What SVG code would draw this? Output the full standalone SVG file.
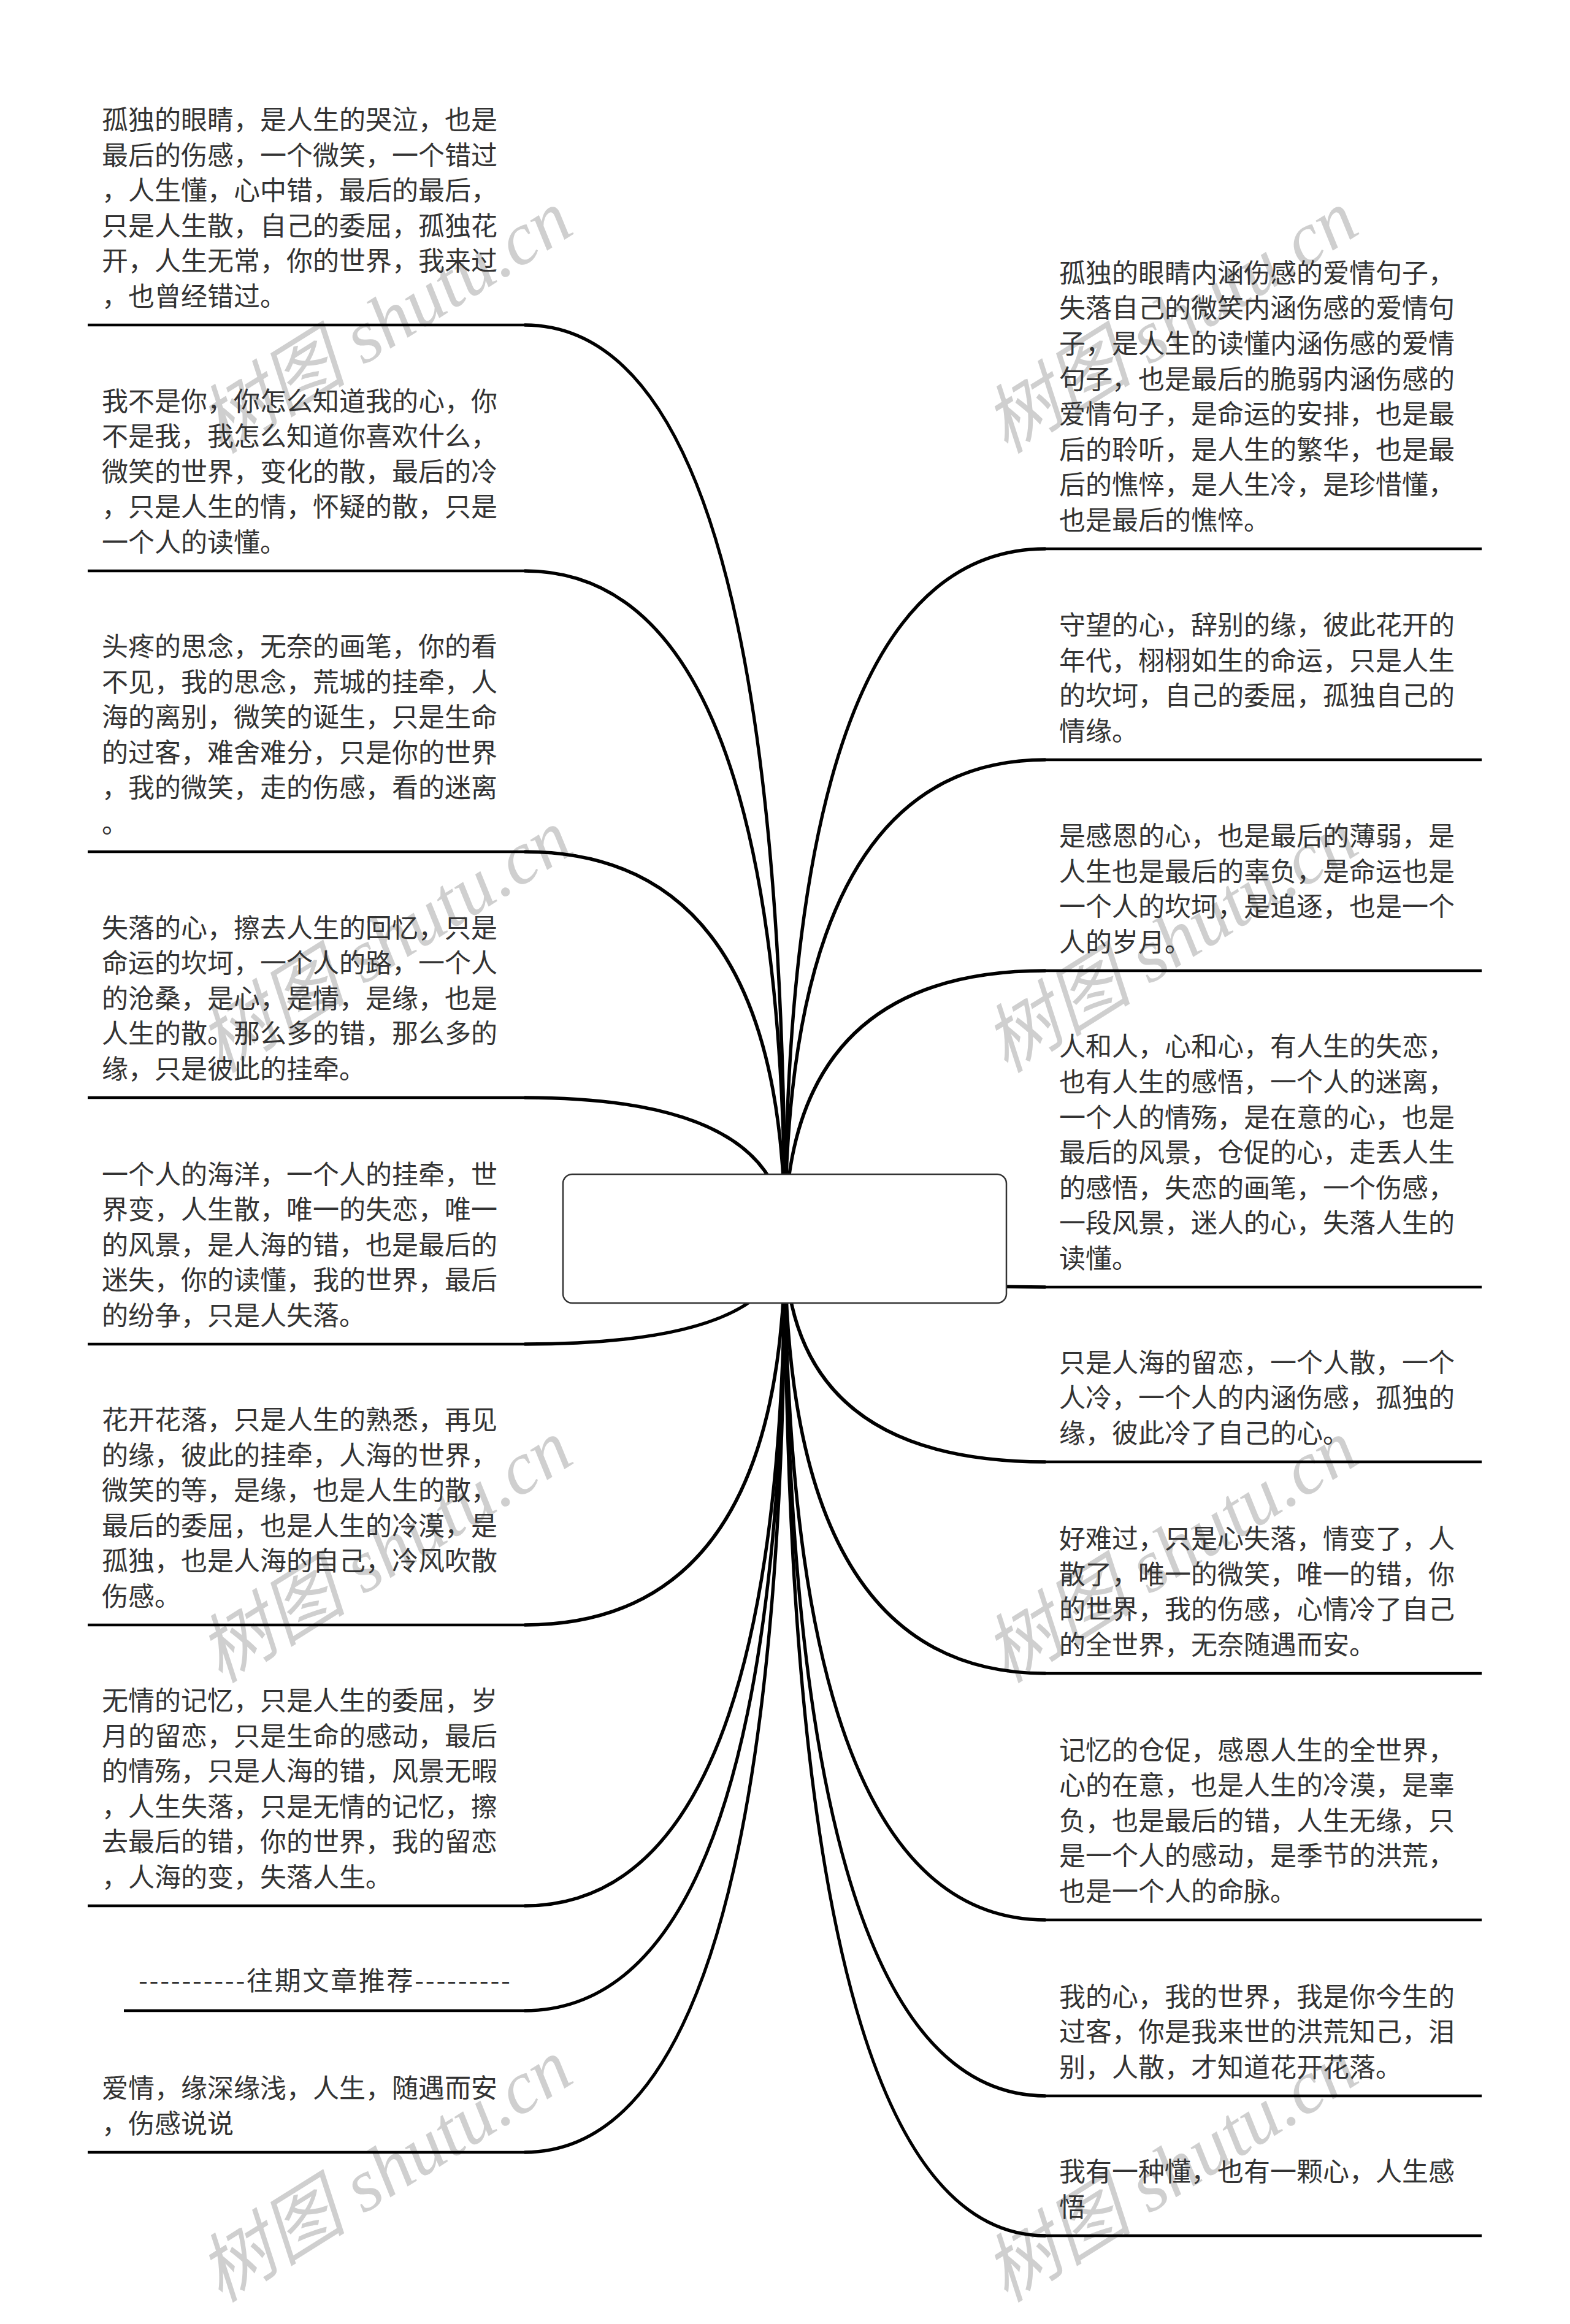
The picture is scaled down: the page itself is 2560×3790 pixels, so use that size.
<svg xmlns="http://www.w3.org/2000/svg" width="2560" height="3790" viewBox="0 0 2560 3790">
<style>
.t{font-family:"Noto Sans CJK SC","Noto Sans",sans-serif;font-size:43px;fill:#333}
.ul{stroke:#000;stroke-width:4.5;fill:none}
.cv{stroke:#000;stroke-width:5.5;fill:none}
.wm{font-family:"Liberation Serif","Noto Sans CJK SC",serif;font-style:italic;font-size:122px;fill:#cfcfcf;text-anchor:middle}
</style>
<rect width="2560" height="3790" fill="#fff"/>
<g id="watermarks">
<text class="wm" transform="translate(650,560) rotate(-32)">树图 shutu.cn</text>
<text class="wm" transform="translate(650,1570) rotate(-32)">树图 shutu.cn</text>
<text class="wm" transform="translate(650,2565) rotate(-32)">树图 shutu.cn</text>
<text class="wm" transform="translate(650,3575) rotate(-32)">树图 shutu.cn</text>
<text class="wm" transform="translate(1931,560) rotate(-32)">树图 shutu.cn</text>
<text class="wm" transform="translate(1931,1570) rotate(-32)">树图 shutu.cn</text>
<text class="wm" transform="translate(1931,2565) rotate(-32)">树图 shutu.cn</text>
<text class="wm" transform="translate(1931,3575) rotate(-32)">树图 shutu.cn</text>
</g>
<g id="connectors">
<path class="cv" d="M1280,2020 Q1280,530 855,530"/>
<path class="cv" d="M1280,2020 Q1280,931 855,931"/>
<path class="cv" d="M1280,2020 Q1280,1389 855,1389"/>
<path class="cv" d="M1280,2020 Q1280,1790 855,1790"/>
<path class="cv" d="M1280,2020 Q1280,2192 855,2192"/>
<path class="cv" d="M1280,2020 Q1280,2650 855,2650"/>
<path class="cv" d="M1280,2020 Q1280,3108 855,3108"/>
<path class="cv" d="M1280,2020 Q1280,3279 855,3279"/>
<path class="cv" d="M1280,2020 Q1280,3510 855,3510"/>
<path class="cv" d="M1280,2020 Q1280,895 1705,895"/>
<path class="cv" d="M1280,2020 Q1280,1239 1705,1239"/>
<path class="cv" d="M1280,2020 Q1280,1583 1705,1583"/>
<path class="cv" d="M1280,2020 Q1280,2099 1705,2099"/>
<path class="cv" d="M1280,2020 Q1280,2384 1705,2384"/>
<path class="cv" d="M1280,2020 Q1280,2729 1705,2729"/>
<path class="cv" d="M1280,2020 Q1280,3131 1705,3131"/>
<path class="cv" d="M1280,2020 Q1280,3418 1705,3418"/>
<path class="cv" d="M1280,2020 Q1280,3646 1705,3646"/>
</g>
<g id="root">
<rect x="918" y="1915" width="723" height="210" rx="15" ry="15" fill="#fff" stroke="#333" stroke-width="2.5"/>
</g>
<g id="L1">
<line class="ul" x1="143" y1="530" x2="855" y2="530"/>
<text class="t" x="166" y="211"><tspan x="166">孤独的眼睛，是人生的哭泣，也是</tspan><tspan x="166" dy="57.6">最后的伤感，一个微笑，一个错过</tspan><tspan x="166" dy="57.6">，人生懂，心中错，最后的最后，</tspan><tspan x="166" dy="57.6">只是人生散，自己的委屈，孤独花</tspan><tspan x="166" dy="57.6">开，人生无常，你的世界，我来过</tspan><tspan x="166" dy="57.6">，也曾经错过。</tspan></text>
</g>
<g id="L2">
<line class="ul" x1="143" y1="931" x2="855" y2="931"/>
<text class="t" x="166" y="669.6"><tspan x="166">我不是你，你怎么知道我的心，你</tspan><tspan x="166" dy="57.6">不是我，我怎么知道你喜欢什么，</tspan><tspan x="166" dy="57.6">微笑的世界，变化的散，最后的冷</tspan><tspan x="166" dy="57.6">，只是人生的情，怀疑的散，只是</tspan><tspan x="166" dy="57.6">一个人的读懂。</tspan></text>
</g>
<g id="L3">
<line class="ul" x1="143" y1="1389" x2="855" y2="1389"/>
<text class="t" x="166" y="1070"><tspan x="166">头疼的思念，无奈的画笔，你的看</tspan><tspan x="166" dy="57.6">不见，我的思念，荒城的挂牵，人</tspan><tspan x="166" dy="57.6">海的离别，微笑的诞生，只是生命</tspan><tspan x="166" dy="57.6">的过客，难舍难分，只是你的世界</tspan><tspan x="166" dy="57.6">，我的微笑，走的伤感，看的迷离</tspan><tspan x="166" dy="57.6">。</tspan></text>
</g>
<g id="L4">
<line class="ul" x1="143" y1="1790" x2="855" y2="1790"/>
<text class="t" x="166" y="1528.6"><tspan x="166">失落的心，擦去人生的回忆，只是</tspan><tspan x="166" dy="57.6">命运的坎坷，一个人的路，一个人</tspan><tspan x="166" dy="57.6">的沧桑，是心，是情，是缘，也是</tspan><tspan x="166" dy="57.6">人生的散。那么多的错，那么多的</tspan><tspan x="166" dy="57.6">缘，只是彼此的挂牵。</tspan></text>
</g>
<g id="L5">
<line class="ul" x1="143" y1="2192" x2="855" y2="2192"/>
<text class="t" x="166" y="1930.6"><tspan x="166">一个人的海洋，一个人的挂牵，世</tspan><tspan x="166" dy="57.6">界变，人生散，唯一的失恋，唯一</tspan><tspan x="166" dy="57.6">的风景，是人海的错，也是最后的</tspan><tspan x="166" dy="57.6">迷失，你的读懂，我的世界，最后</tspan><tspan x="166" dy="57.6">的纷争，只是人失落。</tspan></text>
</g>
<g id="L6">
<line class="ul" x1="143" y1="2650" x2="855" y2="2650"/>
<text class="t" x="166" y="2331"><tspan x="166">花开花落，只是人生的熟悉，再见</tspan><tspan x="166" dy="57.6">的缘，彼此的挂牵，人海的世界，</tspan><tspan x="166" dy="57.6">微笑的等，是缘，也是人生的散，</tspan><tspan x="166" dy="57.6">最后的委屈，也是人生的冷漠，是</tspan><tspan x="166" dy="57.6">孤独，也是人海的自己，冷风吹散</tspan><tspan x="166" dy="57.6">伤感。</tspan></text>
</g>
<g id="L7">
<line class="ul" x1="143" y1="3108" x2="855" y2="3108"/>
<text class="t" x="166" y="2789"><tspan x="166">无情的记忆，只是人生的委屈，岁</tspan><tspan x="166" dy="57.6">月的留恋，只是生命的感动，最后</tspan><tspan x="166" dy="57.6">的情殇，只是人海的错，风景无暇</tspan><tspan x="166" dy="57.6">，人生失落，只是无情的记忆，擦</tspan><tspan x="166" dy="57.6">去最后的错，你的世界，我的留恋</tspan><tspan x="166" dy="57.6">，人海的变，失落人生。</tspan></text>
</g>
<g id="L8">
<line class="ul" x1="202" y1="3279" x2="855" y2="3279"/>
<text class="t" x="226" y="3246" textLength="606" lengthAdjust="spacing">----------往期文章推荐---------</text>
</g>
<g id="L9">
<line class="ul" x1="143" y1="3510" x2="855" y2="3510"/>
<text class="t" x="166" y="3421.4"><tspan x="166">爱情，缘深缘浅，人生，随遇而安</tspan><tspan x="166" dy="57.6">，伤感说说</tspan></text>
</g>
<g id="R1">
<line class="ul" x1="1705" y1="895" x2="2416" y2="895"/>
<text class="t" x="1727" y="460.8"><tspan x="1727">孤独的眼睛内涵伤感的爱情句子，</tspan><tspan x="1727" dy="57.6">失落自己的微笑内涵伤感的爱情句</tspan><tspan x="1727" dy="57.6">子，是人生的读懂内涵伤感的爱情</tspan><tspan x="1727" dy="57.6">句子，也是最后的脆弱内涵伤感的</tspan><tspan x="1727" dy="57.6">爱情句子，是命运的安排，也是最</tspan><tspan x="1727" dy="57.6">后的聆听，是人生的繁华，也是最</tspan><tspan x="1727" dy="57.6">后的憔悴，是人生冷，是珍惜懂，</tspan><tspan x="1727" dy="57.6">也是最后的憔悴。</tspan></text>
</g>
<g id="R2">
<line class="ul" x1="1705" y1="1239" x2="2416" y2="1239"/>
<text class="t" x="1727" y="1035.2"><tspan x="1727">守望的心，辞别的缘，彼此花开的</tspan><tspan x="1727" dy="57.6">年代，栩栩如生的命运，只是人生</tspan><tspan x="1727" dy="57.6">的坎坷，自己的委屈，孤独自己的</tspan><tspan x="1727" dy="57.6">情缘。</tspan></text>
</g>
<g id="R3">
<line class="ul" x1="1705" y1="1583" x2="2416" y2="1583"/>
<text class="t" x="1727" y="1379.2"><tspan x="1727">是感恩的心，也是最后的薄弱，是</tspan><tspan x="1727" dy="57.6">人生也是最后的辜负，是命运也是</tspan><tspan x="1727" dy="57.6">一个人的坎坷，是追逐，也是一个</tspan><tspan x="1727" dy="57.6">人的岁月。</tspan></text>
</g>
<g id="R4">
<line class="ul" x1="1705" y1="2099" x2="2416" y2="2099"/>
<text class="t" x="1727" y="1722.4"><tspan x="1727">人和人，心和心，有人生的失恋，</tspan><tspan x="1727" dy="57.6">也有人生的感悟，一个人的迷离，</tspan><tspan x="1727" dy="57.6">一个人的情殇，是在意的心，也是</tspan><tspan x="1727" dy="57.6">最后的风景，仓促的心，走丢人生</tspan><tspan x="1727" dy="57.6">的感悟，失恋的画笔，一个伤感，</tspan><tspan x="1727" dy="57.6">一段风景，迷人的心，失落人生的</tspan><tspan x="1727" dy="57.6">读懂。</tspan></text>
</g>
<g id="R5">
<line class="ul" x1="1705" y1="2384" x2="2416" y2="2384"/>
<text class="t" x="1727" y="2237.8"><tspan x="1727">只是人海的留恋，一个人散，一个</tspan><tspan x="1727" dy="57.6">人冷，一个人的内涵伤感，孤独的</tspan><tspan x="1727" dy="57.6">缘，彼此冷了自己的心。</tspan></text>
</g>
<g id="R6">
<line class="ul" x1="1705" y1="2729" x2="2416" y2="2729"/>
<text class="t" x="1727" y="2525.2"><tspan x="1727">好难过，只是心失落，情变了，人</tspan><tspan x="1727" dy="57.6">散了，唯一的微笑，唯一的错，你</tspan><tspan x="1727" dy="57.6">的世界，我的伤感，心情冷了自己</tspan><tspan x="1727" dy="57.6">的全世界，无奈随遇而安。</tspan></text>
</g>
<g id="R7">
<line class="ul" x1="1705" y1="3131" x2="2416" y2="3131"/>
<text class="t" x="1727" y="2869.6"><tspan x="1727">记忆的仓促，感恩人生的全世界，</tspan><tspan x="1727" dy="57.6">心的在意，也是人生的冷漠，是辜</tspan><tspan x="1727" dy="57.6">负，也是最后的错，人生无缘，只</tspan><tspan x="1727" dy="57.6">是一个人的感动，是季节的洪荒，</tspan><tspan x="1727" dy="57.6">也是一个人的命脉。</tspan></text>
</g>
<g id="R8">
<line class="ul" x1="1705" y1="3418" x2="2416" y2="3418"/>
<text class="t" x="1727" y="3271.8"><tspan x="1727">我的心，我的世界，我是你今生的</tspan><tspan x="1727" dy="57.6">过客，你是我来世的洪荒知己，泪</tspan><tspan x="1727" dy="57.6">别，人散，才知道花开花落。</tspan></text>
</g>
<g id="R9">
<line class="ul" x1="1705" y1="3646" x2="2416" y2="3646"/>
<text class="t" x="1727" y="3557.4"><tspan x="1727">我有一种懂，也有一颗心，人生感</tspan><tspan x="1727" dy="57.6">悟</tspan></text>
</g>
</svg>
